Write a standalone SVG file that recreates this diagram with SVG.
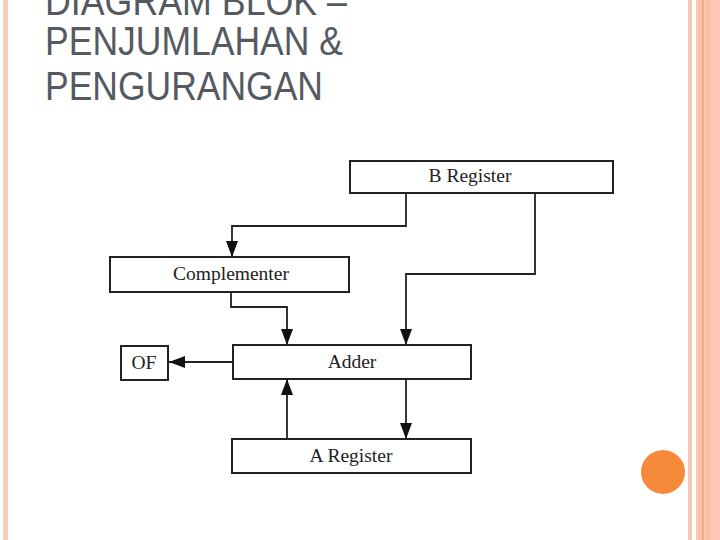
<svg xmlns="http://www.w3.org/2000/svg" width="720" height="540" viewBox="0 0 720 540">
<defs>
<marker id="ah" viewBox="0 0 16 12" refX="16" refY="6" markerWidth="16" markerHeight="12" markerUnits="userSpaceOnUse" orient="auto">
<path d="M0,0 L16,6 L0,12 Z" fill="#111"/>
</marker>
<style>
.box{fill:#fff;stroke:#222;stroke-width:2}
.lbl{font-family:"Liberation Serif",serif;font-size:19.5px;fill:#222;text-anchor:middle}
.ln{fill:none;stroke:#222;stroke-width:1.8}
.title{font-family:"Liberation Sans",Arial,sans-serif;font-size:40px;fill:#555a61}
</style>
</defs>
<rect width="720" height="540" fill="#fff"/>
<rect x="3" y="0" width="5" height="540" fill="#f9cbb8"/>
<rect x="688" y="0" width="4" height="540" fill="#f9c6b2"/>
<rect x="696" y="0" width="24" height="540" fill="#fbc8b3"/>
<rect x="698" y="0" width="4" height="540" fill="#fcc0a6"/>
<rect x="702" y="0" width="1.5" height="540" fill="#f0a07e"/>
<rect x="706" y="0" width="4" height="540" fill="#fbbca4"/>
<circle cx="663" cy="472" r="22" fill="#f78a3a"/>
<g id="title">
<text class="title" x="45" y="15" textLength="302" lengthAdjust="spacingAndGlyphs">DIAGRAM BLOK –</text>
<text class="title" x="45" y="55" textLength="298" lengthAdjust="spacingAndGlyphs">PENJUMLAHAN &amp;</text>
<text class="title" x="45" y="100" textLength="278" lengthAdjust="spacingAndGlyphs">PENGURANGAN</text>
</g>
<g id="connectors">
<polyline class="ln" points="406,193 406,226 232,226 232,257" marker-end="url(#ah)"/>
<polyline class="ln" points="535,193 535,274 406,274 406,345" marker-end="url(#ah)"/>
<polyline class="ln" points="231,293 231,307 287,307 287,345" marker-end="url(#ah)"/>
<line class="ln" x1="233" y1="362" x2="169" y2="362" marker-end="url(#ah)"/>
<line class="ln" x1="287" y1="439" x2="287" y2="379" marker-end="url(#ah)"/>
<line class="ln" x1="406" y1="379" x2="406" y2="439" marker-end="url(#ah)"/>
</g>
<g id="b-register">
<rect class="box" x="350" y="161" width="263" height="32"/>
<text class="lbl" x="470" y="182">B Register</text>
</g>
<g id="complementer">
<rect class="box" x="110" y="257" width="239" height="35"/>
<text class="lbl" x="231" y="280">Complementer</text>
</g>
<g id="adder">
<rect class="box" x="233" y="345" width="238" height="34"/>
<text class="lbl" x="352" y="368">Adder</text>
</g>
<g id="of">
<rect class="box" x="121" y="346" width="47" height="34"/>
<text class="lbl" x="144" y="369">OF</text>
</g>
<g id="a-register">
<rect class="box" x="232" y="439" width="239" height="34"/>
<text class="lbl" x="351" y="462">A Register</text>
</g>
</svg>
